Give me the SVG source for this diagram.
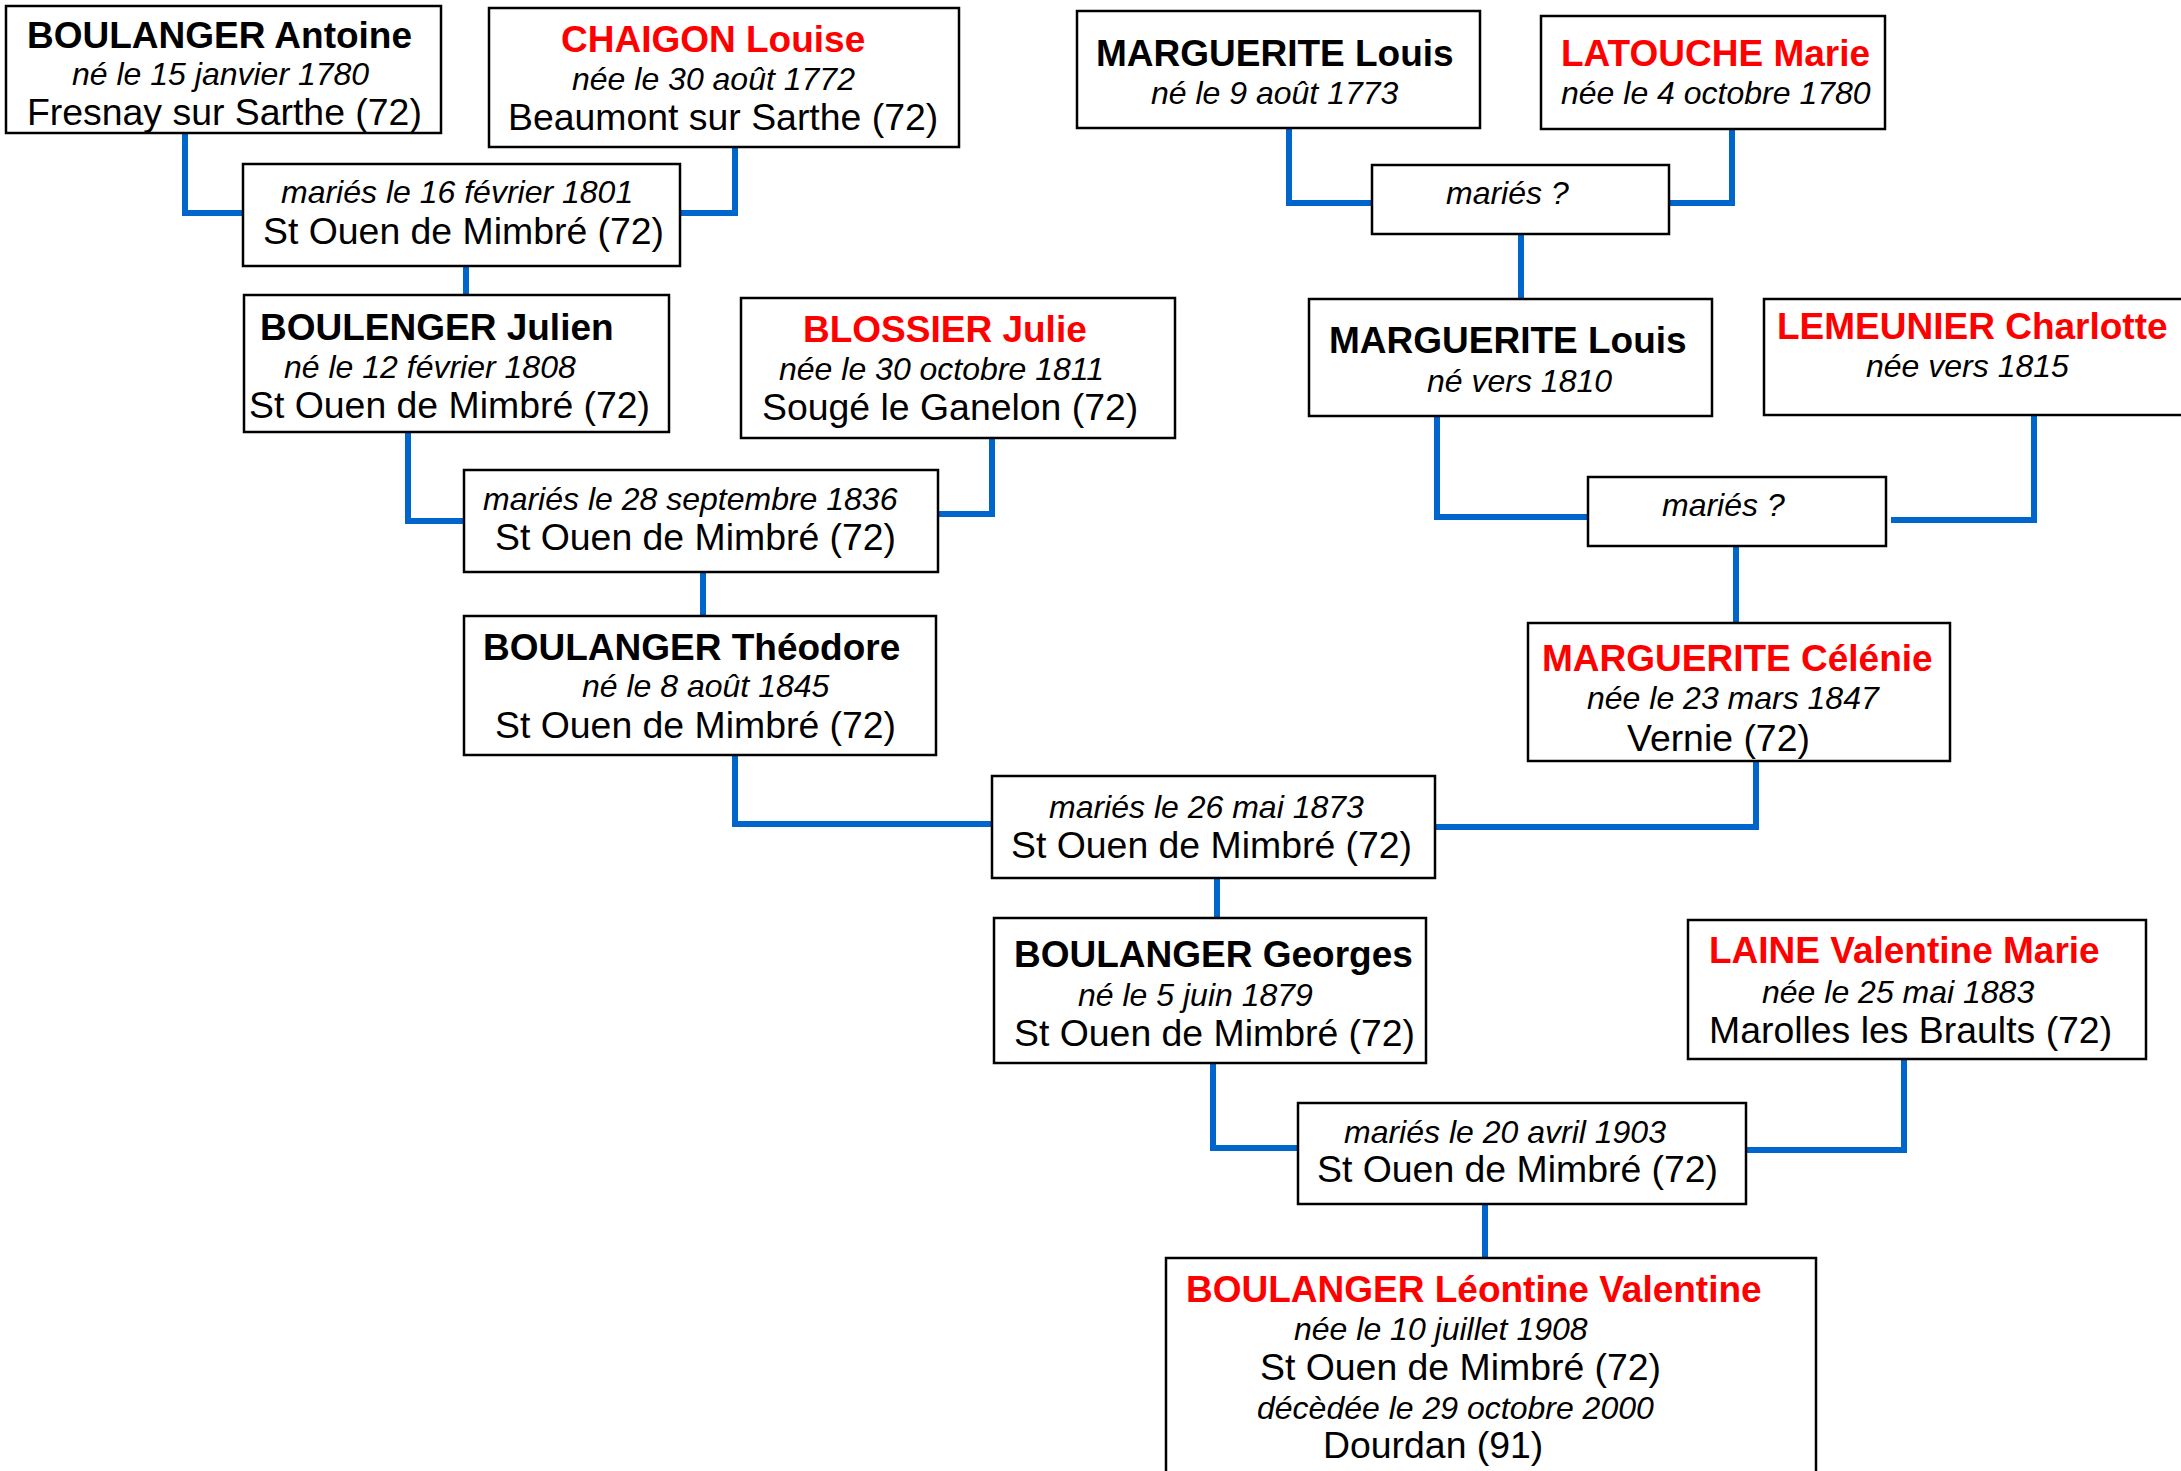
<svg xmlns="http://www.w3.org/2000/svg" width="2181" height="1471" viewBox="0 0 2181 1471">
<style>
.box{fill:#fff;stroke:#000;stroke-width:2.5}
.b{font-family:"Liberation Sans",Arial,sans-serif;font-weight:bold;font-size:37px;fill:#000}
.i{font-family:"Liberation Sans",Arial,sans-serif;font-style:italic;font-size:32px;fill:#000}
.r{font-family:"Liberation Sans",Arial,sans-serif;font-size:37.4px;fill:#000}
.red{fill:#ff0000}
.c{fill:none;stroke:#0066cc;stroke-width:6;stroke-linejoin:miter;stroke-linecap:butt}
</style>
<rect width="2181" height="1471" fill="#fff"/>
<g id="connectors">
<path class="c" d="M185,133 V213 H243"/>
<path class="c" d="M735,147 V213 H680"/>
<path class="c" d="M466,266 V295"/>
<path class="c" d="M408,432 V521 H464"/>
<path class="c" d="M992,438 V514 H938"/>
<path class="c" d="M703,572 V616"/>
<path class="c" d="M735,755 V824 H992"/>
<path class="c" d="M1756,761 V827 H1435"/>
<path class="c" d="M1217,878 V918"/>
<path class="c" d="M1213,1063 V1148 H1298"/>
<path class="c" d="M1904,1059 V1150 H1746"/>
<path class="c" d="M1485,1204 V1258"/>
<path class="c" d="M1289,128 V203 H1372"/>
<path class="c" d="M1732,129 V203 H1669"/>
<path class="c" d="M1521,234 V299"/>
<path class="c" d="M1437,416 V517 H1588"/>
<path class="c" d="M2034,415 V520 H1891"/>
<path class="c" d="M1736,546 V623"/>
</g>
<g id="antoine">
<rect class="box" x="6" y="6" width="435" height="127"/>
<text class="b" x="27" y="48">BOULANGER Antoine</text>
<text class="i" x="72" y="85">né le 15 janvier 1780</text>
<text class="r" x="27" y="125">Fresnay sur Sarthe (72)</text>
</g>
<g id="chaigon">
<rect class="box" x="489" y="8" width="470" height="139"/>
<text class="b red" x="561" y="52">CHAIGON Louise</text>
<text class="i" x="572" y="90">née le 30 août 1772</text>
<text class="r" x="508" y="130">Beaumont sur Sarthe (72)</text>
</g>
<g id="mariage1801">
<rect class="box" x="243" y="164" width="437" height="102"/>
<text class="i" x="281" y="203">mariés le 16 février 1801</text>
<text class="r" x="263" y="244">St Ouen de Mimbré (72)</text>
</g>
<g id="julien">
<rect class="box" x="244" y="295" width="425" height="137"/>
<text class="b" x="260" y="340">BOULENGER Julien</text>
<text class="i" x="284" y="378">né le 12 février 1808</text>
<text class="r" x="249" y="418">St Ouen de Mimbré (72)</text>
</g>
<g id="blossier">
<rect class="box" x="741" y="298" width="434" height="140"/>
<text class="b red" x="803" y="342">BLOSSIER Julie</text>
<text class="i" x="779" y="380">née le 30 octobre 1811</text>
<text class="r" x="762" y="420">Sougé le Ganelon (72)</text>
</g>
<g id="mariage1836">
<rect class="box" x="464" y="470" width="474" height="102"/>
<text class="i" x="483" y="510">mariés le 28 septembre 1836</text>
<text class="r" x="495" y="550">St Ouen de Mimbré (72)</text>
</g>
<g id="theodore">
<rect class="box" x="464" y="616" width="472" height="139"/>
<text class="b" x="483" y="660">BOULANGER Théodore</text>
<text class="i" x="582" y="697">né le 8 août 1845</text>
<text class="r" x="495" y="738">St Ouen de Mimbré (72)</text>
</g>
<g id="marguerite1773">
<rect class="box" x="1077" y="11" width="403" height="117"/>
<text class="b" x="1096" y="66">MARGUERITE Louis</text>
<text class="i" x="1151" y="104">né le 9 août 1773</text>
</g>
<g id="latouche">
<rect class="box" x="1541" y="16" width="344" height="113"/>
<text class="b red" x="1561" y="66">LATOUCHE Marie</text>
<text class="i" x="1561" y="104">née le 4 octobre 1780</text>
</g>
<g id="mariage1">
<rect class="box" x="1372" y="165" width="297" height="69"/>
<text class="i" x="1446" y="204">mariés ?</text>
</g>
<g id="marguerite1810">
<rect class="box" x="1309" y="299" width="403" height="117"/>
<text class="b" x="1329" y="353">MARGUERITE Louis</text>
<text class="i" x="1427" y="392">né vers 1810</text>
</g>
<g id="lemeunier">
<rect class="box" x="1764" y="299" width="440" height="116"/>
<text class="b red" x="1777" y="339">LEMEUNIER Charlotte</text>
<text class="i" x="1866" y="377">née vers 1815</text>
</g>
<g id="mariage2">
<rect class="box" x="1588" y="477" width="298" height="69"/>
<text class="i" x="1662" y="516">mariés ?</text>
</g>
<g id="celenie">
<rect class="box" x="1528" y="623" width="422" height="138"/>
<text class="b red" x="1542" y="671">MARGUERITE Célénie</text>
<text class="i" x="1587" y="709">née le 23 mars 1847</text>
<text class="r" x="1627" y="751">Vernie (72)</text>
</g>
<g id="mariage1873">
<rect class="box" x="992" y="776" width="443" height="102"/>
<text class="i" x="1049" y="818">mariés le 26 mai 1873</text>
<text class="r" x="1011" y="858">St Ouen de Mimbré (72)</text>
</g>
<g id="georges">
<rect class="box" x="994" y="918" width="432" height="145"/>
<text class="b" x="1014" y="967">BOULANGER Georges</text>
<text class="i" x="1078" y="1006">né le 5 juin 1879</text>
<text class="r" x="1014" y="1046">St Ouen de Mimbré (72)</text>
</g>
<g id="laine">
<rect class="box" x="1688" y="920" width="458" height="139"/>
<text class="b red" x="1709" y="963">LAINE Valentine Marie</text>
<text class="i" x="1762" y="1003">née le 25 mai 1883</text>
<text class="r" x="1709" y="1043">Marolles les Braults (72)</text>
</g>
<g id="mariage1903">
<rect class="box" x="1298" y="1103" width="448" height="101"/>
<text class="i" x="1344" y="1143">mariés le 20 avril 1903</text>
<text class="r" x="1317" y="1182">St Ouen de Mimbré (72)</text>
</g>
<g id="leontine">
<rect class="box" x="1166" y="1258" width="650" height="230"/>
<text class="b red" x="1186" y="1302">BOULANGER Léontine Valentine</text>
<text class="i" x="1294" y="1340">née le 10 juillet 1908</text>
<text class="r" x="1260" y="1380">St Ouen de Mimbré (72)</text>
<text class="i" x="1257" y="1419">décèdée le 29 octobre 2000</text>
<text class="r" x="1323" y="1458">Dourdan (91)</text>
</g>
</svg>
